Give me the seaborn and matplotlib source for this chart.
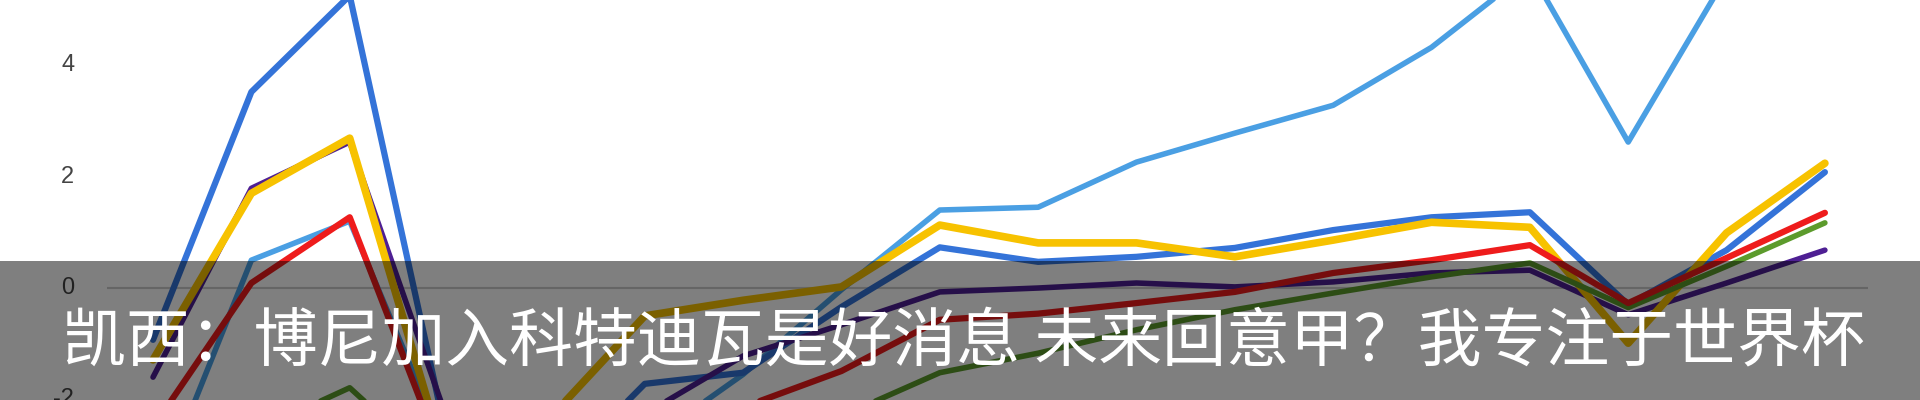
import matplotlib
matplotlib.use("Agg")
import matplotlib.pyplot as plt
from matplotlib.patches import Rectangle
import pandas as pd
import seaborn as sns

# values (lines leave the frame below -2 and above ~5.2)
points = list(range(18))
light_blue = [-3.9, 0.50, 1.20, -3.0, -3.5, -2.8, -1.55, -0.03, 1.40, 1.45, 2.26, 2.78, 3.28, 4.32, 5.70, 2.62, 5.60, 6.00]
blue = [-0.93, 3.52, 5.25, -2.8, -3.5, -1.72, -1.52, -0.34, 0.73, 0.47, 0.56, 0.72, 1.04, 1.27, 1.36, -0.30, 0.68, 2.08]
purple = [-1.60, 1.79, 2.62, -2.4, -2.9, -2.26, -1.22, -0.66, -0.07, 0.00, 0.09, 0.02, 0.11, 0.27, 0.32, -0.48, 0.09, 0.68]
yellow = [-1.29, 1.70, 2.69, -3.26, -2.40, -0.50, -0.22, 0.02, 1.13, 0.81, 0.81, 0.56, 0.86, 1.18, 1.09, -0.99, 0.99, 2.24]
green = [-3.5, -2.6, -1.79, -3.4, -3.6, -3.2, -2.8, -2.3, -1.52, -1.17, -0.75, -0.39, -0.09, 0.20, 0.45, -0.35, 0.39, 1.17]
red = [-2.5, 0.09, 1.27, -3.3, -3.0, -2.6, -2.14, -1.49, -0.57, -0.46, -0.27, -0.07, 0.27, 0.50, 0.77, -0.27, 0.54, 1.35]

series = {"light_blue": light_blue, "blue": blue, "purple": purple,
          "yellow": yellow, "green": green, "red": red}
palette = {"light_blue": "#4a9fe3", "blue": "#3473d8", "purple": "#4e1f93",
           "yellow": "#f7c200", "green": "#5c9b2c", "red": "#ee1c1c"}
widths = {"light_blue": 4.0, "blue": 4.5, "purple": 4.0,
          "yellow": 5.5, "green": 4.0, "red": 4.5}

y_ticks = [4, 2, 0, -2]
caption = "凯西：博尼加入科特迪瓦是好消息 未来回意甲？我专注于世界杯"

df = pd.DataFrame([(s, x, v) for s, vals in series.items() for x, v in zip(points, vals)],
                  columns=["series", "point", "value"])

sns.set_style("white")
plt.rcParams['font.family'] = ['Noto Sans CJK SC', 'DejaVu Sans']

fig = plt.figure(figsize=(19.2, 4.0), dpi=100)
ax = fig.add_axes([0, 0, 1, 1])

ax.hlines(0, -0.47, 17.44, color="#cccccc", linewidth=1.5, zorder=1)

for name in series:
    sns.lineplot(data=df[df["series"] == name], x="point", y="value",
                 color=palette[name], linewidth=widths[name], ax=ax,
                 legend=False, sort=False, zorder=2)

ax.set_xlim(-1.556, 17.967)
ax.set_ylim(-2.01, 5.17)
ax.axis("off")

for t in y_ticks:
    ax.text(-0.80, t, str(t), ha="right", va="center", fontsize=17,
            color="#444444", family="Liberation Sans")

# caption band across the bottom
fig.add_artist(Rectangle((0, 0), 1, 139 / 400, transform=fig.transFigure,
                         facecolor="black", alpha=0.5, edgecolor="none", zorder=10))
fig.text(62 / 1920, 0.145, caption, color="white", fontsize=46, ha="left",
         va="center", family=["Noto Sans CJK SC", "DejaVu Sans"], zorder=11)

fig.savefig("out.png", dpi=100, facecolor="white")
